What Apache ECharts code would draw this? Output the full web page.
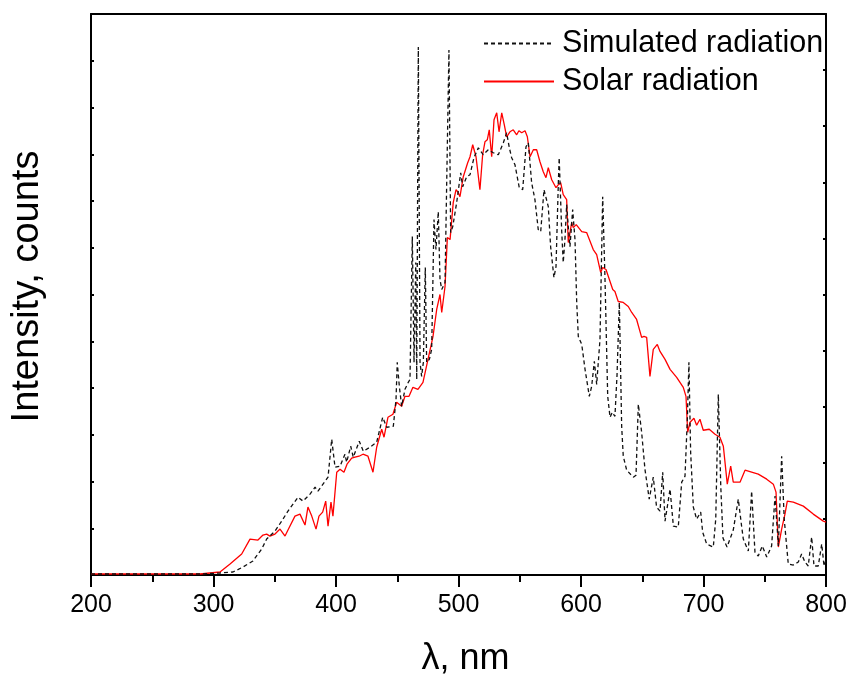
<!DOCTYPE html>
<html>
<head>
<meta charset="utf-8">
<script src="https://cdn.jsdelivr.net/npm/echarts@6/dist/echarts.min.js"></script>
<style>
html,body{margin:0;padding:0;background:#fff;}
#chart{width:853px;height:682px;}
</style>
</head>
<body>
<div id="chart"></div>
<script>
// ---- data (intensity in arbitrary counts) ----
const seriesNames = ["Simulated radiation", "Solar radiation"];
const xTicks = [200, 300, 400, 500, 600, 700, 800];

const simLambda = [200,289,305.3,315.9,324.1,332.2,339.3,343.4,350.2,355.7,360.8,364.9,369.0,373.1,378.8,382.9,385.3,389.4,393.5,396.5,399.2,403.3,407.3,408.7,412.0,414.1,419.0,422.3,427.7,433.2,438.1,441.4,446.8,449.0,450.0,451.7,453.6,456.3,459.0,460.4,462.3,463.7,465.1,465.9,467.2,468.6,469.9,471.3,472.9,474.0,476.2,478.1,480.0,481.6,483.5,484.9,486.3,489.0,492.2,493.6,495.3,498.5,501.8,503.4,506.7,509.4,512.6,516.2,520.2,524.3,528.4,532.5,536.6,539.3,541.5,543.4,546.1,549.6,552.4,555.1,557.0,559.7,562.4,565.1,567.1,569.8,571.4,573.3,575.2,577.9,579.6,581.5,582.2,584.2,585.5,586.9,588.3,589.6,591.0,593.2,595.1,596.5,597.8,600.6,603.3,606.8,608.7,610.9,612.8,615.5,617.7,619.6,621.8,623.7,625.6,627.7,629.4,631.3,633.2,634.5,637.3,642.7,644.9,646.8,649.5,652.2,655.7,659.0,661.7,664.5,666.7,668.6,672.7,675.4,679.4,682.2,684.9,686.8,688.1,689.5,691.7,694.4,697.7,699.3,702.6,708.0,710.0,712.1,714.1,715.9,719.2,724.3,728.4,731.1,732.5,736.6,739.3,742.0,744.7,748.0,751.6,755.6,758.4,761.1,763.8,765.9,769.2,773.3,777.4,780.1,782.8,785.5,788.3,790.2,793.7,796.5,798.4,800];
const simIntensity = [1,1,2,3,8,14,26,36,44,54,64,71,78,74,81,88,84,91,98,136,108,109,121,113,129,118,134,124,128,133,158,148,149,176,213,189,169,186,193,196,339,213,313,196,529,213,199,213,308,213,216,226,356,326,364,296,286,293,526,343,349,373,403,389,399,401,418,428,421,426,423,421,433,443,428,418,411,388,386,429,433,393,376,346,344,386,388,369,329,298,309,393,418,346,313,336,371,349,329,366,336,273,239,231,206,179,189,214,191,236,379,296,179,158,163,159,200,273,149,119,105,98,100,171,143,106,76,98,68,64,103,54,86,49,48,93,99,156,213,123,68,56,63,43,31,28,56,181,89,37,28,45,76,49,36,24,84,23,19,29,18,29,79,29,119,56,11,10,13,21,13,9,38,9,9,31,9,15];

const solarLambda = [200,289,305.3,313.5,323.0,329.8,336.3,340.4,343.4,346.1,350.2,354.3,358.4,360.8,366.5,370.6,374.7,377.1,380.2,383.7,386.1,389.1,391.6,393.5,395.9,397.5,400.6,403.3,406.5,409.0,412.8,415.5,418.8,422.0,426.1,430.2,433.2,437.3,439.2,442.4,446.5,449.5,453.6,456.3,459.6,462.8,466.9,471.0,475.1,479.2,482.2,484.9,486.3,489.0,490.9,493.1,495.7,498.0,499.8,501.2,503.9,507.5,509.4,511.6,514.3,515.9,517.5,519.7,521.6,523.5,525.1,527.1,529.0,531.2,533.1,535.3,537.4,539.3,542.0,544.7,547.5,549.3,551.6,554.3,556.2,558.4,561.1,563.8,566.5,569.2,571.4,573.3,576.1,579.6,581.5,583.4,585.5,588.3,589.6,592.4,593.7,596.1,600.6,604.6,610.0,612.8,616.1,617.7,620.4,625.9,627.7,630.4,634.5,638.6,641.4,645.4,649.5,651.4,653.6,656.3,659.0,662.3,664.5,668.6,672.7,678.1,683.5,685.7,687.1,689.0,692.2,694.4,697.1,699.8,704.7,709.4,713.4,716.2,719.4,722.2,724.3,729.8,733.9,739.3,744.7,751.6,757.0,759.2,761.1,763.8,766.5,768.4,773.3,781.5,789.6,797.8,800];
const solarIntensity = [1,1,3,11,21,36,35,40,41,39,41,46,39,45,59,61,50,68,59,46,59,63,74,49,73,59,103,106,103,111,117,118,119,121,119,103,128,146,138,158,161,173,169,179,179,188,186,193,216,239,266,281,263,289,338,336,373,386,383,379,399,413,419,431,419,421,386,421,434,436,446,419,456,463,444,463,451,439,444,446,441,445,443,445,439,419,426,426,414,404,398,408,396,388,391,393,381,376,333,353,348,351,344,343,326,321,303,308,306,286,284,274,273,269,263,256,238,239,238,199,226,231,224,216,206,198,188,179,143,153,157,150,156,145,146,141,138,129,91,109,93,93,105,103,101,96,91,83,28,46,61,74,73,69,61,54,53];

const simData = simLambda.map((x, i) => [x, simIntensity[i]]);
const solarData = solarLambda.map((x, i) => [x, solarIntensity[i]]);

const FONT = "'Liberation Sans', Arial, sans-serif";
const chart = echarts.init(document.getElementById('chart'), null, {renderer: 'canvas'});
const YMAX = 562;
chart.setOption({
  animation: false,
  backgroundColor: '#fff',
  grid: {left: 91, right: 27, top: 14, bottom: 106, containLabel: false},
  legend: {
    orient: 'vertical',
    left: 483, top: 28,
    padding: 0,
    itemGap: 7,
    itemWidth: 70, itemHeight: 14,
    itemStyle: {color: 'rgba(0,0,0,0)', borderWidth: 0, opacity: 0},
    textStyle: {fontFamily: FONT, fontSize: 30.5, color: '#000', lineHeight: 31, padding: [0,0,0,3]},
    data: seriesNames
  },
  xAxis: [{
    type: 'value', min: 200, max: 800, interval: 100,
    position: 'bottom',
    axisLine: {show: true, onZero: false, lineStyle: {color: '#000', width: 2}},
    axisTick: {show: true, inside: false, length: 12, lineStyle: {color: '#000', width: 2}},
    minorTick: {show: true, splitNumber: 2, length: 7, lineStyle: {color: '#000', width: 2}},
    axisLabel: {fontFamily: FONT, fontSize: 25, color: '#000', margin: 18,
      formatter: v => xTicks.includes(v) ? String(v) : ''},
    splitLine: {show: false},
    name: 'λ, nm', nameLocation: 'middle', nameGap: 66,
    nameTextStyle: {fontFamily: FONT, fontSize: 36, color: '#000', padding: [0, 0, 0, 14]}
  }, {
    type: 'value', min: 200, max: 800, interval: 100,
    position: 'top',
    axisLine: {show: true, onZero: false, lineStyle: {color: '#000', width: 2}},
    axisTick: {show: false}, axisLabel: {show: false}, splitLine: {show: false}
  }],
  yAxis: [{
    type: 'value', min: 0, max: YMAX, interval: YMAX / 12,
    position: 'left',
    axisLine: {show: true, onZero: false, lineStyle: {color: '#000', width: 2}},
    axisTick: {show: true, inside: true, length: 3, lineStyle: {color: '#000', width: 2}},
    axisLabel: {show: false}, splitLine: {show: false},
    name: 'Intensity, counts', nameLocation: 'middle', nameGap: 44,
    nameTextStyle: {fontFamily: FONT, fontSize: 38, color: '#000', padding: [0, 0, 0, 16]}
  }, {
    type: 'value', min: 0, max: YMAX, interval: YMAX / 10,
    position: 'right',
    axisLine: {show: true, onZero: false, lineStyle: {color: '#000', width: 2}},
    axisTick: {show: true, inside: true, length: 3, lineStyle: {color: '#000', width: 2}},
    axisLabel: {show: false}, splitLine: {show: false}
  }],
  series: [{
    name: seriesNames[0], type: 'line', data: simData,
    xAxisIndex: 0, yAxisIndex: 0,
    symbol: 'none', smooth: false, z: 3,
    lineStyle: {color: '#111', width: 1.3, type: [4, 3]},
    itemStyle: {color: '#111'}
  }, {
    name: seriesNames[1], type: 'line', data: solarData,
    xAxisIndex: 0, yAxisIndex: 0,
    symbol: 'none', smooth: false, z: 2,
    lineStyle: {color: '#ff0000', width: 1.3},
    itemStyle: {color: '#ff0000'}
  }]
});
</script>
</body>
</html>
